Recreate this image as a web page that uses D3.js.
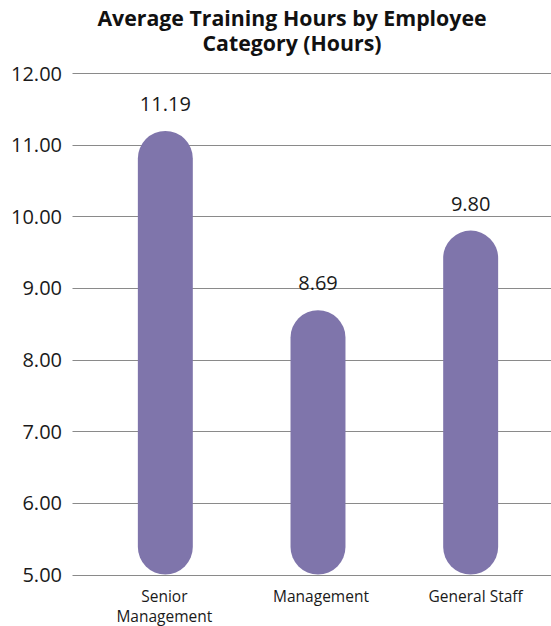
<!DOCTYPE html>
<html>
<head>
<meta charset="utf-8">
<script src="https://cdn.jsdelivr.net/npm/d3@7"></script>
<style>
  html, body { margin: 0; padding: 0; background: #fff; }
  svg { display: block; font-family: "Open Sans", sans-serif; }
</style>
</head>
<body>
<svg id="chart" width="551" height="626"></svg>
<script>
const titleLines = ["Average Training Hours by Employee", "Category (Hours)"];
const categories = [["Senior", "Management"], ["Management"], ["General Staff"]];
const categoryKeys = ["Senior Management", "Management", "General Staff"];
const values = [11.19, 8.69, 9.80];
const yTicks = [5, 6, 7, 8, 9, 10, 11, 12];

const svg = d3.select("#chart");
const gridLeft = 72.5, gridRight = 551;

const y = d3.scaleLinear().domain([5, 12]).range([574.5, 73]);
const x = d3.scaleBand().domain(categoryKeys).range([89, 547]).paddingInner(0.64).paddingOuter(0.32);

// title
svg.append("g").selectAll("text").data(titleLines).join("text")
  .attr("x", 292).attr("y", (d, i) => 26 + i * 25)
  .attr("text-anchor", "middle")
  .attr("font-weight", "bold")
  .attr("font-size", 21.3)
  .attr("fill", "#111")
  .text(d => d);

// gridlines
svg.append("g").selectAll("line").data(yTicks).join("line")
  .attr("x1", gridLeft).attr("x2", gridRight)
  .attr("y1", d => Math.round(y(d)) + 0.5).attr("y2", d => Math.round(y(d)) + 0.5)
  .attr("stroke", "#8a8a8a").attr("stroke-width", 1);

// y axis labels
const yAxis = d3.axisLeft(y).tickValues(yTicks).tickFormat(d3.format(".2f")).tickSize(0).tickPadding(0);
const yg = svg.append("g").attr("transform", `translate(62,0)`).call(yAxis);
yg.select(".domain").remove();
yg.selectAll("text").attr("font-size", 20).attr("fill", "#1a1a1a")
  .attr("font-family", "'Open Sans', sans-serif").attr("dy", "0.35em");

// bars (pill shape)
const bw = x.bandwidth();
svg.append("g").selectAll("rect").data(values).join("rect")
  .attr("x", (d, i) => x(categoryKeys[i]))
  .attr("width", bw)
  .attr("y", d => y(d))
  .attr("height", d => y(5) - y(d))
  .attr("rx", bw / 2).attr("ry", bw / 2)
  .attr("fill", "#7f75ab");

// value labels
svg.append("g").selectAll("text").data(values).join("text")
  .attr("x", (d, i) => x(categoryKeys[i]) + bw / 2)
  .attr("y", d => y(d) - 20)
  .attr("text-anchor", "middle")
  .attr("font-size", 20)
  .attr("fill", "#1a1a1a")
  .text(d => d3.format(".2f")(d));

// category labels
const cg = svg.append("g").selectAll("text").data(categories).join("text")
  .attr("text-anchor", "middle")
  .attr("font-size", 15.5)
  .attr("fill", "#1a1a1a");
cg.each(function(lines, i) {
  const cx = x(categoryKeys[i]) + bw / 2 + (i === 2 ? 5 : (i === 1 ? 3 : -1));
  lines.forEach((l, j) => {
    d3.select(this).append("tspan").attr("x", cx).attr("y", 602 + j * 19.5).text(l);
  });
});
</script>
</body>
</html>
